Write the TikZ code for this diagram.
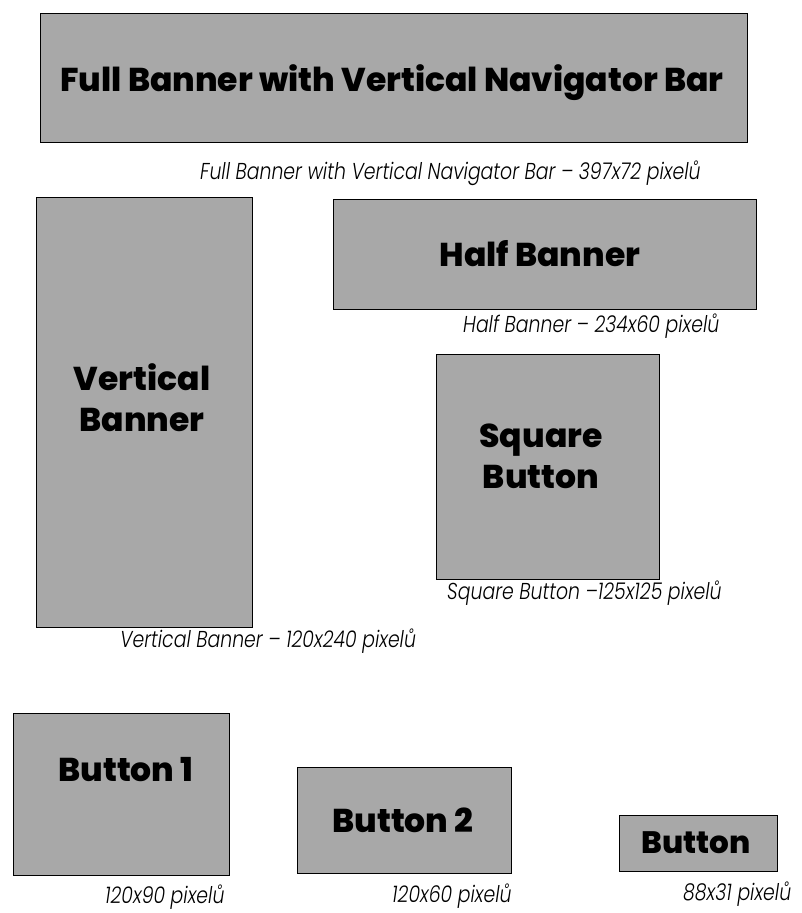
\documentclass[tikz,border=0pt]{standalone}
\usepackage{fontspec}
\setmainfont{Poppins}
\IfFontExistsTF{Poppins Light Italic}
  {\newfontfamily\capfont{Poppins Light Italic}[FakeStretch=0.82]}
  {\newfontfamily\capfont{Poppins Italic}[FakeStretch=0.82]}
\IfFontExistsTF{Poppins ExtraBold}
  {\newfontfamily\headfont{Poppins ExtraBold}}
  {\newfontfamily\headfont{Poppins Bold}}
\definecolor{bannergray}{gray}{0.66}
\begin{document}
\begin{tikzpicture}[x=1pt,y=-1pt]
      \tikzstyle{box}=[draw,fill=bannergray,line width=0.9pt]
      \tikzstyle{head}=[font=\headfont\fontsize{33}{41}\selectfont,align=center,inner sep=0pt]
      \tikzstyle{caption}=[font=\capfont\fontsize{23}{26}\selectfont,anchor=mid west,inner sep=0pt]
      \useasboundingbox (0,0) rectangle (802,913);
      % full banner
      \path[box] (40,13) rectangle (747,142);
      \node[head] (fbhead) at (392,83) {Full Banner with Vertical Navigator Bar};
      \node[caption] (fbcap) at (200,177) {Full Banner with Vertical Navigator Bar – 397x72 pixelů};
      % vertical banner
      \path[box] (36,197) rectangle (252,627);
      \node[head] (vbhead) at (142,398) {Vertical\\Banner};
      \node[caption] (vbcap) at (120,645) {Vertical Banner – 120x240 pixelů};
      % half banner
      \path[box] (333,199) rectangle (756,309);
      \node[head] (hbhead) at (540,254) {Half Banner};
      \node[caption] (hbcap) at (463,330) {Half Banner – 234x60 pixelů};
      % square button
      \path[box] (436,354) rectangle (659,579);
      \node[head] (sqhead) at (541,456) {Square\\Button};
      \node[caption] (sqcap) at (447,597) {Square Button –125x125 pixelů};
      % buttons
      \path[box] (13,713) rectangle (229,875);
      \node[head] (bonehead) at (126,770) {Button 1};
      \node[caption] (bonecap) at (105,901) {120x90 pixelů};
      \path[box] (297,767) rectangle (511,873);
      \node[head] (btwohead) at (403,820) {Button 2};
      \node[caption] (btwocap) at (392,900) {120x60 pixelů};
      \path[box] (619,815) rectangle (777,871);
      \node[head,font=\headfont\fontsize{31}{41}\selectfont] (bhead) at (696,843) {Button};
      \node[caption] (bcap) at (683,898) {88x31 pixelů};
\end{tikzpicture}
\end{document}
